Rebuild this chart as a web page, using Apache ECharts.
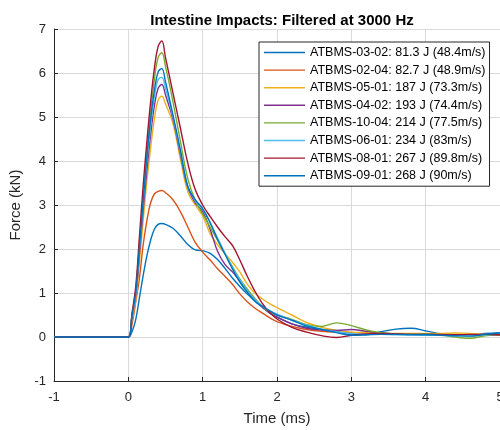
<!DOCTYPE html>
<html>
<head>
    <meta charset="UTF-8">
    <title>Intestine Impacts</title>
    <script src="https://cdn.jsdelivr.net/npm/echarts@6/dist/echarts.min.js"></script>
    <style>
        html, body { margin: 0; padding: 0; background: #fff; }
        #chart { width: 500px; height: 430px; }
    </style>
</head>
<body>
<div id="chart"></div>
<script type="text/javascript">
    // time axis (ms), shared by every test
    var time = [-1, -0.1, 0, 0.05, 0.1, 0.15, 0.2, 0.25, 0.3, 0.35, 0.4, 0.45, 0.5,
        0.6, 0.7, 0.8, 0.9, 1.0, 1.1, 1.2, 1.3, 1.4, 1.5, 1.6, 1.7, 1.8, 1.9, 2.0,
        2.2, 2.4, 2.6, 2.8, 3.0, 3.2, 3.4, 3.6, 3.8, 4.0, 4.2, 4.4, 4.6, 4.8, 5.0];

    var names = [
        'ATBMS-03-02: 81.3 J (48.4m/s)',
        'ATBMS-02-04: 82.7 J (48.9m/s)',
        'ATBMS-05-01: 187 J (73.3m/s)',
        'ATBMS-04-02: 193 J (74.4m/s)',
        'ATBMS-10-04: 214 J (77.5m/s)',
        'ATBMS-06-01: 234 J (83m/s)',
        'ATBMS-08-01: 267 J (89.8m/s)',
        'ATBMS-09-01: 268 J (90m/s)'
    ];
    var colors = ['#0072BD', '#D95319', '#EDB120', '#7E2F8E', '#77AC30', '#4DBEEE', '#A2142F', '#0072BD'];

    // force (kN)
    var f0302 = [0, 0, 0, 0.12, 0.4, 0.9, 1.4, 1.85, 2.2, 2.45, 2.56, 2.58, 2.56,
        2.47, 2.3, 2.1, 1.98, 1.96, 1.9, 1.76, 1.56, 1.34, 1.15, 0.98, 0.82, 0.68, 0.55, 0.45,
        0.3, 0.22, 0.17, 0.13, 0.05, 0.05, 0.12, 0.18, 0.2, 0.14, 0.07, 0.05, 0.04, 0.08, 0.1];
    var f0204 = [0, 0, 0, 0.3, 0.8, 1.35, 2.1, 2.65, 3.05, 3.25, 3.31, 3.33, 3.28,
        3.12, 2.85, 2.5, 2.15, 1.93, 1.75, 1.55, 1.38, 1.2, 0.98, 0.8, 0.66, 0.55, 0.44, 0.35,
        0.24, 0.17, 0.13, 0.11, 0.1, 0.09, 0.08, 0.07, 0.07, 0.06, 0.06, 0.05, 0.05, 0.05, 0.05];
    var f0501 = [0, 0, 0, 0.4, 0.85, 1.7, 2.65, 3.55, 4.3, 4.95, 5.38, 5.47, 5.3,
        4.85, 4.05, 3.3, 3.0, 2.75, 2.35, 2.1, 1.9, 1.7, 1.48, 1.2, 1.0, 0.87, 0.76, 0.67,
        0.5, 0.33, 0.22, 0.15, 0.11, 0.1, 0.09, 0.08, 0.08, 0.08, 0.08, 0.09, 0.08, 0.06, 0.05];
    var f0402 = [0, 0, 0, 0.45, 0.95, 1.9, 2.9, 3.8, 4.6, 5.25, 5.65, 5.74, 5.5,
        4.95, 4.15, 3.4, 3.05, 2.85, 2.45, 1.95, 1.65, 1.48, 1.27, 1.05, 0.85, 0.68, 0.55, 0.45,
        0.3, 0.2, 0.16, 0.15, 0.17, 0.13, 0.09, 0.07, 0.06, 0.06, 0.05, 0.05, 0.04, 0.04, 0.05];
    var f1004 = [0, 0, 0, 0.5, 1.05, 2.15, 3.2, 4.2, 5.1, 5.85, 6.35, 6.46, 6.15,
        5.35, 4.45, 3.6, 3.1, 2.8, 2.5, 2.2, 1.9, 1.6, 1.32, 1.09, 0.88, 0.7, 0.57, 0.5,
        0.4, 0.28, 0.24, 0.32, 0.26, 0.16, 0.1, 0.07, 0.06, 0.07, 0.05, 0.0, -0.03, 0.03, 0.05];
    var f0601 = [0, 0, 0, 0.48, 1.0, 2.0, 3.05, 4.0, 4.8, 5.45, 5.85, 5.9, 5.65,
        5.0, 4.2, 3.42, 3.1, 2.9, 2.6, 2.25, 1.9, 1.58, 1.3, 1.05, 0.85, 0.7, 0.6, 0.52,
        0.38, 0.27, 0.18, 0.12, 0.08, 0.06, 0.06, 0.05, 0.05, 0.04, 0.04, 0.03, 0.03, 0.05, 0.06];
    var f0801 = [0, 0, 0, 0.55, 1.15, 2.3, 3.45, 4.45, 5.35, 6.1, 6.6, 6.73, 6.35,
        5.55, 4.75, 3.95, 3.35, 3.0, 2.74, 2.5, 2.28, 2.08, 1.75, 1.38, 1.05, 0.77, 0.56, 0.41,
        0.22, 0.11, 0.03, -0.01, 0.04, 0.07, 0.08, 0.07, 0.06, 0.06, 0.06, 0.05, 0.06, 0.06, 0.05];
    var f0901 = [0, 0, 0, 0.5, 1.02, 2.05, 3.1, 4.1, 4.95, 5.6, 6.02, 6.1, 5.8,
        5.05, 4.25, 3.42, 3.12, 2.92, 2.6, 2.22, 1.88, 1.55, 1.25, 1.02, 0.82, 0.7, 0.6, 0.5,
        0.38, 0.25, 0.17, 0.1, 0.04, 0.05, 0.06, 0.06, 0.05, 0.05, 0.04, 0.03, 0.02, 0.06, 0.09];

    var forces = [f0302, f0204, f0501, f0402, f1004, f0601, f0801, f0901];

    var font = '"Liberation Sans", Arial, Helvetica, sans-serif';
    var ink = '#262626';

    var series = [];
    for (var i = 0; i < forces.length; i++) {
        var pts = [];
        for (var k = 0; k < time.length; k++) {
            pts.push([time[k], forces[i][k]]);
        }
        series.push({
            name: names[i],
            type: 'line',
            data: pts,
            smooth: 0.4,
            symbol: 'none',
            lineStyle: { width: 1.4, color: colors[i] },
            itemStyle: { color: colors[i] }
        });
    }

    var myChart = echarts.init(document.getElementById('chart'), null, { renderer: 'canvas' });
    var option = {
        backgroundColor: '#fff',
        animation: false,
        title: {
            text: 'Intestine Impacts: Filtered at 3000 Hz',
            left: 277,
            textAlign: 'center',
            top: 8,
            textStyle: { fontFamily: font, fontSize: 15, fontWeight: 'bold', color: '#000' }
        },
        grid: { left: 54, top: 29, right: 0, bottom: 49, outerBoundsMode: 'none' },
        legend: {
            orient: 'vertical',
            left: 259,
            top: 42,
            padding: [3, 4, 3, 5],
            icon: 'rect',
            itemWidth: 41,
            itemHeight: 1.4,
            itemGap: 2.6,
            backgroundColor: '#fff',
            borderColor: ink,
            borderWidth: 1,
            textStyle: { fontFamily: font, fontSize: 12.5, color: '#000', lineHeight: 15 },
            data: names
        },
        xAxis: {
            type: 'value',
            min: -1,
            max: 5,
            interval: 1,
            name: 'Time (ms)',
            nameLocation: 'middle',
            nameGap: 30,
            nameTextStyle: { fontFamily: font, fontSize: 15, color: ink },
            axisLine: { onZero: false, lineStyle: { color: ink, width: 1 } },
            axisTick: { inside: true, length: 4, lineStyle: { color: ink } },
            axisLabel: { fontFamily: font, fontSize: 13, color: ink, margin: 10 },
            splitLine: { show: true, lineStyle: { color: '#d9d9d9', width: 1 } }
        },
        yAxis: {
            type: 'value',
            min: -1,
            max: 7,
            interval: 1,
            name: 'Force (kN)',
            nameLocation: 'middle',
            nameGap: 17,
            nameTextStyle: { fontFamily: font, fontSize: 15, color: ink },
            axisLine: { show: true, onZero: false, lineStyle: { color: ink, width: 1 } },
            axisTick: { show: true, inside: true, length: 4, lineStyle: { color: ink } },
            axisLabel: { fontFamily: font, fontSize: 13, color: ink, margin: 8 },
            splitLine: { show: true, lineStyle: { color: '#d9d9d9', width: 1 } }
        },
        series: series
    };
    myChart.setOption(option);
</script>
</body>
</html>
